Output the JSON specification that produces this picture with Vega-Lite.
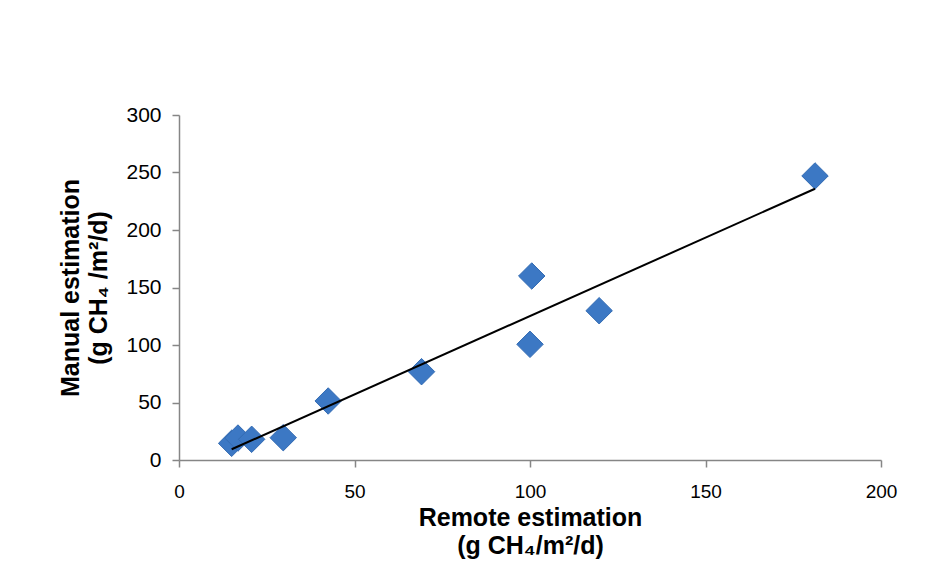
{
  "$schema": "https://vega.github.io/schema/vega-lite/v6.json",
  "width": 702,
  "height": 345,
  "autosize": {"type": "none"},
  "padding": {"left": 179, "top": 115, "right": 67, "bottom": 101},
  "background": "white",
  "config": {
    "view": {"stroke": null},
    "axis": {
      "grid": false,
      "domainColor": "#868686",
      "domainWidth": 1.5,
      "tickColor": "#868686",
      "tickWidth": 1.5,
      "tickSize": 7,
      "labelColor": "#000000",
      "labelFont": "Liberation Sans",
      "labelFlush": false,
      "titleColor": "#000000",
      "titleFont": "Liberation Sans",
      "titleFontWeight": "bold",
      "titleFontSize": 25,
      "titleLineHeight": 28
    }
  },
  "data": {
    "values": [
      {"remote": 15.0, "manual": 14.5},
      {"remote": 16.8, "manual": 19.1},
      {"remote": 20.7, "manual": 18.0},
      {"remote": 29.7, "manual": 19.4},
      {"remote": 42.5, "manual": 51.3},
      {"remote": 69.1, "manual": 76.8},
      {"remote": 100.5, "manual": 160.0},
      {"remote": 100.0, "manual": 100.6},
      {"remote": 119.7, "manual": 129.8},
      {"remote": 181.2, "manual": 247.0}
    ]
  },
  "layer": [
    {
      "mark": {"type": "point", "shape": "diamond", "filled": true, "size": 700, "color": "#3c78c4", "opacity": 1, "stroke": "#336bb3", "strokeWidth": 1},
      "encoding": {
        "x": {
          "field": "remote",
          "type": "quantitative",
          "scale": {"domain": [0, 200], "nice": false, "zero": true},
          "axis": {
            "values": [0, 50, 100, 150, 200],
            "labelFontSize": 19,
            "labelPadding": 15,
            "titlePadding": 4,
            "title": ["Remote estimation", "(g CH₄/m²/d)"]
          }
        },
        "y": {
          "field": "manual",
          "type": "quantitative",
          "scale": {"domain": [0, 300], "nice": false},
          "axis": {
            "values": [0, 50, 100, 150, 200, 250, 300],
            "labelFontSize": 21,
            "labelPadding": 11,
            "titlePadding": 14,
            "title": ["Manual estimation", "(g CH₄ /m²/d)"]
          }
        }
      }
    },
    {
      "transform": [{"regression": "manual", "on": "remote"}],
      "mark": {"type": "line", "color": "#000000", "strokeWidth": 2},
      "encoding": {
        "x": {"field": "remote", "type": "quantitative"},
        "y": {"field": "manual", "type": "quantitative"}
      }
    }
  ]
}
